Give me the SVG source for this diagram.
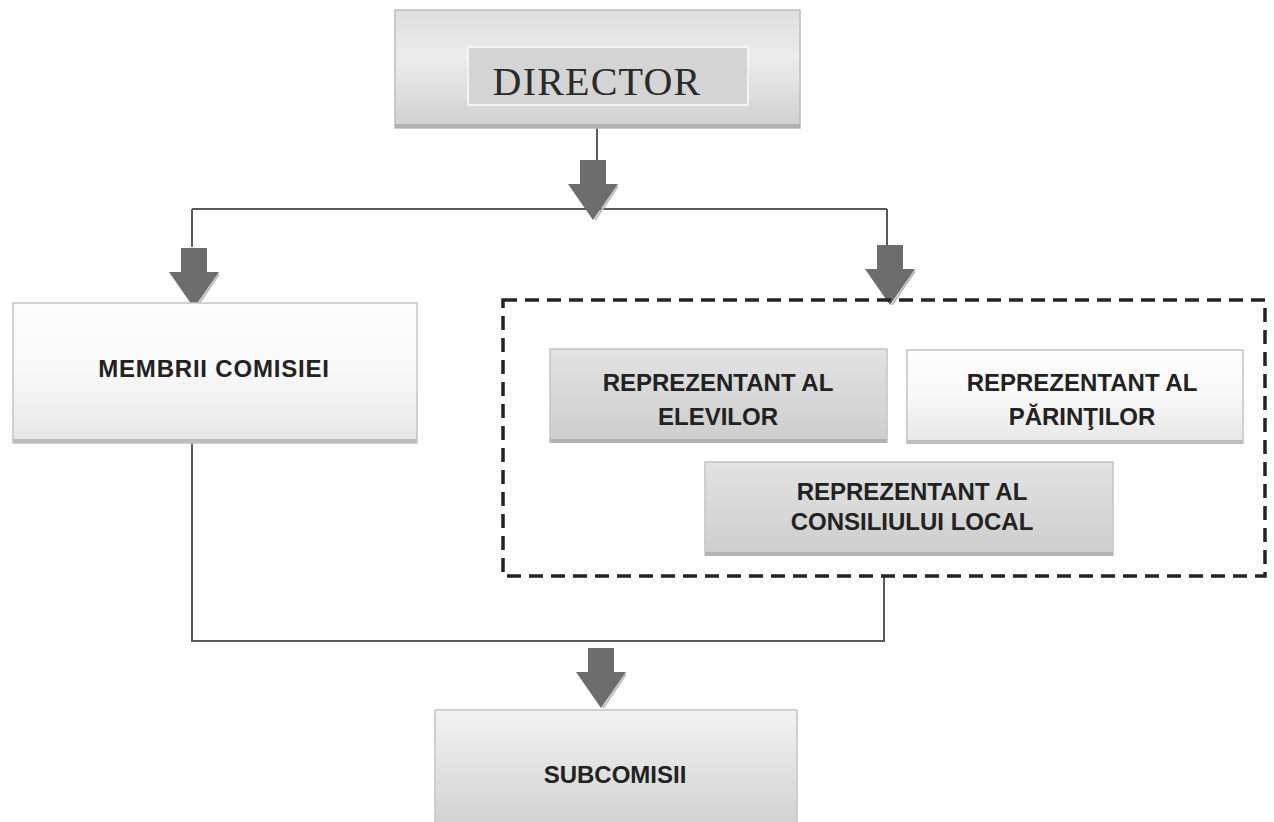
<svg xmlns="http://www.w3.org/2000/svg" width="1274" height="822" viewBox="0 0 1274 822">
<style>
.box{stroke:#c4c4c4;stroke-width:1.5}
.lbl{font-family:"Liberation Sans","DejaVu Sans",sans-serif;font-weight:bold;font-size:24px;fill:#222;text-anchor:middle}
.conn{stroke:#5a5a5a;stroke-width:2;fill:none}
.arrow{fill:#6d6d6d}
.arrowhl{fill:none;stroke:#b9b9b9;stroke-width:2}
</style>
<defs>
<linearGradient id="gWhite" x1="0" y1="0" x2="0" y2="1">
<stop offset="0" stop-color="#fdfdfd"/>
<stop offset="0.5" stop-color="#f8f8f8"/>
<stop offset="1" stop-color="#e6e6e6"/>
</linearGradient>
<linearGradient id="gGray" x1="0" y1="0" x2="0" y2="1">
<stop offset="0" stop-color="#e2e2e2"/>
<stop offset="1" stop-color="#cdcdcd"/>
</linearGradient>
<linearGradient id="gSub" x1="0" y1="0" x2="0" y2="1">
<stop offset="0" stop-color="#f2f2f2"/>
<stop offset="1" stop-color="#d2d2d2"/>
</linearGradient>
<linearGradient id="gDir" x1="0" y1="0" x2="0" y2="1">
<stop offset="0" stop-color="#dedede"/>
<stop offset="0.4" stop-color="#ececec"/>
<stop offset="1" stop-color="#cfcfcf"/>
</linearGradient>
<g id="arr">
<path class="arrow" d="M-13,0 H13 V24 H25 L0,60 L-25,24 H-13 Z"/>
<path class="arrowhl" d="M25,26 L2,60"/>
</g>
</defs>
<rect width="1274" height="822" fill="#ffffff"/>

<g id="connectors">
<path class="conn" d="M597,128 V165"/>
<path class="conn" d="M192,209 H887"/>
<path class="conn" d="M192,209 V247"/>
<path class="conn" d="M887,209 V248"/>
<path class="conn" d="M192,443 V641 H884 V576"/>
<use href="#arr" x="593" y="160"/>
<use href="#arr" x="194" y="248"/>
<use href="#arr" x="890" y="245"/>
<use href="#arr" x="601" y="648"/>
</g>

<g id="director">
<rect x="395" y="10" width="405" height="118" fill="url(#gDir)" stroke="#bdbdbd" stroke-width="1.5"/>
<rect x="395" y="124" width="405" height="4" fill="#b0b0b0"/>
<rect x="468" y="47" width="280" height="58" fill="#d4d4d4" stroke="#f4f4f4" stroke-width="2"/>
<text x="597" y="95" font-family="'Liberation Serif','DejaVu Serif',serif" font-size="40" fill="#2a2a2a" text-anchor="middle" letter-spacing="1.2">DIRECTOR</text>
</g>

<g id="membrii">
<rect class="box" x="13" y="303" width="404" height="140" fill="url(#gWhite)"/>
<rect x="13" y="439" width="404" height="4" fill="#bdbdbd"/>
<text class="lbl" x="214" y="377" letter-spacing="0.8">MEMBRII COMISIEI</text>
</g>

<g id="group-representatives">
<rect x="503" y="300" width="762" height="276" fill="none" stroke="#232323" stroke-width="3.5" stroke-dasharray="14 8"/>
</g>

<g id="elevilor">
<rect class="box" x="550" y="349" width="337" height="93" fill="url(#gGray)"/>
<rect x="550" y="439" width="337" height="4" fill="#b3b3b3"/>
<text class="lbl" x="718" y="391">REPREZENTANT AL</text>
<text class="lbl" x="718" y="425">ELEVILOR</text>
</g>

<g id="parintilor">
<rect class="box" x="907" y="350" width="336" height="93" fill="url(#gWhite)"/>
<rect x="907" y="440" width="336" height="4" fill="#bdbdbd"/>
<text class="lbl" x="1082" y="391">REPREZENTANT AL</text>
<text class="lbl" x="1082" y="425">PĂRINŢILOR</text>
</g>

<g id="consiliu">
<rect class="box" x="705" y="462" width="408" height="93" fill="url(#gGray)"/>
<rect x="705" y="552" width="408" height="4" fill="#b3b3b3"/>
<text class="lbl" x="912" y="500">REPREZENTANT AL</text>
<text class="lbl" x="912" y="530">CONSILIULUI LOCAL</text>
</g>

<g id="subcomisii">
<rect class="box" x="435" y="710" width="362" height="114" fill="url(#gSub)"/>
<text class="lbl" x="615" y="783">SUBCOMISII</text>
</g>
</svg>
